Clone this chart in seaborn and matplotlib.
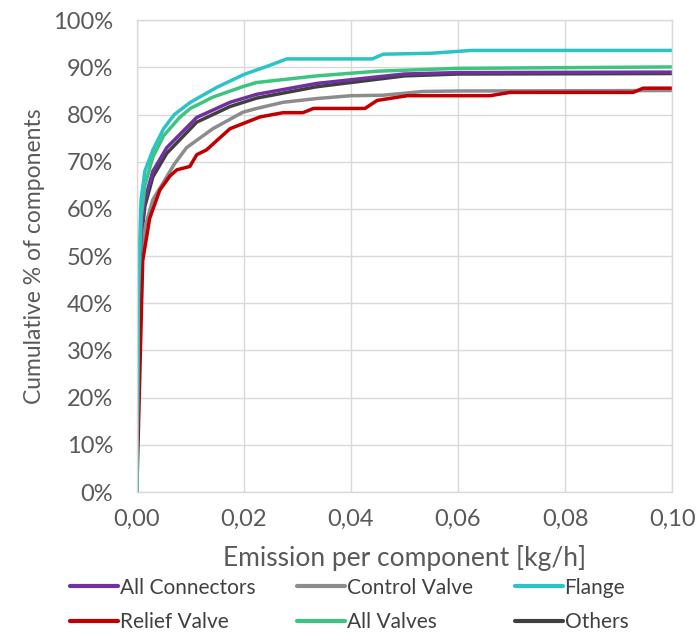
import pandas as pd
import numpy as np
import matplotlib
matplotlib.use("Agg")
import matplotlib.pyplot as plt
import seaborn as sns
from matplotlib.lines import Line2D
from matplotlib.ticker import FuncFormatter

# Values (emission in kg/h, cumulative share in %)
conn_x = [0, 0.0003, 0.0008, 0.0015, 0.003, 0.0056, 0.0112, 0.0174, 0.0224, 0.0336, 0.045, 0.05, 0.06, 0.1]
conn_y = [0, 40, 55, 62, 68, 73, 79.4, 82.6, 84.3, 86.6, 88.0, 88.6, 88.9, 89.0]

ctrl_x = [0, 0.0003, 0.0008, 0.0015, 0.003, 0.0049, 0.007, 0.0093, 0.0142, 0.0198, 0.0224, 0.0273,
          0.0336, 0.04, 0.046, 0.0535, 0.06, 0.1]
ctrl_y = [0, 38, 50, 56, 62, 65.5, 69.5, 73, 77, 80.5, 81.3, 82.6, 83.4, 84.0, 84.1, 84.9, 85.0, 85.1]

flange_x = [0, 0.0003, 0.0008, 0.0015, 0.003, 0.005, 0.007, 0.01, 0.015, 0.02, 0.025, 0.028,
            0.044, 0.046, 0.055, 0.0625, 0.1]
flange_y = [0, 45, 62, 68, 72.5, 77, 80, 82.6, 85.8, 88.5, 90.5, 91.8, 91.8, 92.8, 93.0, 93.6, 93.6]

relief_x = [0, 0.0011, 0.0024, 0.0043, 0.0062, 0.0075, 0.0099, 0.0112, 0.013, 0.0174, 0.023, 0.0273,
            0.031, 0.033, 0.0426, 0.0449, 0.0505, 0.066, 0.0697, 0.0927, 0.0946, 0.1]
relief_y = [0, 49, 58, 64, 67, 68.3, 69, 71.5, 72.5, 77, 79.5, 80.4, 80.4, 81.3, 81.3, 83.0, 84.0,
            84.0, 84.7, 84.7, 85.6, 85.6]

valves_x = [0, 0.0003, 0.0008, 0.0015, 0.003, 0.005, 0.008, 0.01, 0.0142, 0.02, 0.0224, 0.0336,
            0.045, 0.06, 0.1]
valves_y = [0, 42, 58, 65, 71, 75.5, 79.4, 81.3, 83.7, 86.0, 86.8, 88.2, 89.2, 89.8, 90.1]

others_x = [0, 0.0003, 0.0008, 0.0015, 0.003, 0.0056, 0.0112, 0.0174, 0.0224, 0.0336, 0.045, 0.05, 0.06, 0.1]
others_y = [0, 39, 53.5, 60.5, 66.8, 71.8, 78.4, 81.7, 83.5, 85.9, 87.5, 88.2, 88.6, 88.7]

series = {
    "All Connectors": (conn_x, conn_y),
    "Control Valve": (ctrl_x, ctrl_y),
    "Flange": (flange_x, flange_y),
    "Relief Valve": (relief_x, relief_y),
    "All Valves": (valves_x, valves_y),
    "Others": (others_x, others_y),
}
colors = {
    "All Connectors": "#7030A0",
    "Control Valve": "#8C8C8C",
    "Flange": "#2CC3C6",
    "Relief Valve": "#C00000",
    "All Valves": "#3DC47E",
    "Others": "#404040",
}

frames = []
for name, (xs, ys) in series.items():
    frames.append(pd.DataFrame({"emission": xs, "share": np.array(ys) / 100, "type": name}))
df = pd.concat(frames, ignore_index=True)

sns.set_style("white")
plt.rcParams["font.family"] = ["Lato", "DejaVu Sans"]

fig = plt.figure(figsize=(6.98, 6.32), dpi=100)
ax = fig.add_axes([0.196, 0.2215, 0.767, 0.7465])

# Others underneath so the purple band stays visible
draw_order = ["Others", "Control Valve", "Relief Valve", "All Connectors", "All Valves", "Flange"]
sns.lineplot(data=df, x="emission", y="share", hue="type", hue_order=draw_order, palette=colors,
             estimator=None, sort=False, linewidth=2.5, legend=False, ax=ax)

ax.set_xlim(0, 0.1)
ax.set_ylim(0, 1)
ax.set_xticks(np.arange(0, 0.101, 0.02))
ax.set_yticks(np.arange(0, 1.01, 0.1))
ax.xaxis.set_major_formatter(FuncFormatter(lambda v, p: f"{v:.2f}".replace(".", ",")))
ax.yaxis.set_major_formatter(FuncFormatter(lambda v, p: f"{v * 100:.0f}%"))
ax.grid(True, color="#D9D9D9", linewidth=1)
for s in ax.spines.values():
    s.set_color("#D9D9D9")
    s.set_linewidth(1)
ax.tick_params(axis="both", length=0, labelsize=17, colors="#595959")
ax.tick_params(axis="y", pad=17)
ax.tick_params(axis="x", pad=12)

ax.set_xlabel("Emission per component [kg/h]", fontsize=19, color="#595959", labelpad=11)
ax.set_ylabel("Cumulative % of components", fontsize=16.5, color="#595959", labelpad=6)

# legend filled column-wise, so order to get rows as in the reference
order = ["All Connectors", "Relief Valve", "Control Valve", "All Valves", "Flange", "Others"]
handles = [Line2D([0], [0], color=colors[n], linewidth=3) for n in order]
fig.legend(handles, order, loc="lower center", bbox_to_anchor=(0.5, -0.03), ncol=3,
           frameon=False, fontsize=15, handlelength=2.3, handletextpad=0.1,
           columnspacing=2.0, labelspacing=0.7, labelcolor="#404040")

fig.savefig("out.png", dpi=100)
